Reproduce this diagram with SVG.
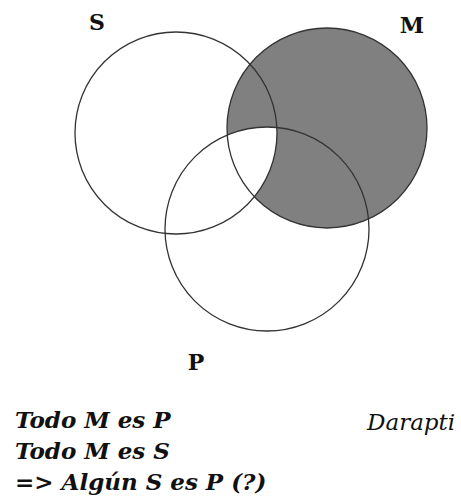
<svg xmlns="http://www.w3.org/2000/svg" width="461" height="499" viewBox="0 0 461 499">
<style>
.c{fill:none;stroke:#333;stroke-width:1.3}
.lbl{font-family:"DejaVu Serif","Liberation Serif",serif;font-weight:bold;font-size:22px;fill:#111;text-anchor:middle}
.t{font-family:"DejaVu Serif","Liberation Serif",serif;font-weight:bold;font-style:italic;font-size:23px;fill:#111}
.d{font-family:"DejaVu Serif","Liberation Serif",serif;font-style:italic;font-size:23px;fill:#111}
</style>
<defs>
<clipPath id="clipP"><circle cx="267" cy="229" r="102"/></clipPath>
</defs>
<rect width="461" height="499" fill="#fff"/>
<g id="shade">
<circle cx="327" cy="128" r="100" fill="#808080"/>
<circle cx="176" cy="133" r="101" fill="#fff" clip-path="url(#clipP)"/>
</g>
<g id="S"><circle class="c" cx="176" cy="133" r="101"/><text class="lbl" x="97" y="30">S</text></g>
<g id="M"><circle class="c" cx="327" cy="128" r="100"/><text class="lbl" x="412" y="33">M</text></g>
<g id="P"><circle class="c" cx="267" cy="229" r="102"/><text class="lbl" x="196" y="370">P</text></g>
<g id="text">
<text class="t" x="15" y="428">Todo M es P</text>
<text class="t" x="15" y="459">Todo M es S</text>
<text class="t" x="15" y="490">=&gt; Algún S es P (?)</text>
<text class="d" x="367" y="430">Darapti</text>
</g>
</svg>
